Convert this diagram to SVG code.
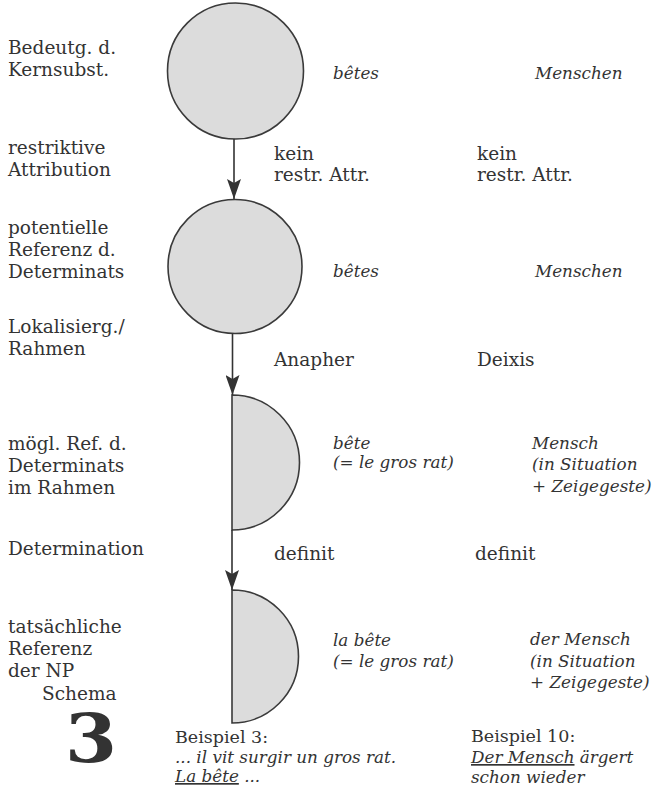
<svg xmlns="http://www.w3.org/2000/svg" width="653" height="811" viewBox="0 0 653 811">
  <style>
    text { font-family: "DejaVu Serif", "Liberation Serif", serif; font-size: 18.5px; fill: #333; }
    .it { font-style: italic; font-size: 16.8px; }
    .ex { font-size: 17.5px; }
    .big { font-size: 68px; font-weight: bold; }
    .node { fill: #dcdcdc; stroke: #3a3a3a; stroke-width: 1.6; }
    .conn { stroke: #333; stroke-width: 1.6; fill: none; }
  </style>
  <defs>
    <marker id="arrow" markerUnits="userSpaceOnUse" markerWidth="20" markerHeight="14" refX="20" refY="7" orient="auto" viewBox="0 0 20 14">
      <path d="M0,0 L20,7 L0,14 L4,7 Z" fill="#333"/>
    </marker>
  </defs>
  <rect width="653" height="811" fill="#fff"/>

  <!-- row labels -->
  <g id="labels">
    <text x="8" y="54">Bedeutg. d.</text>
    <text x="8" y="76">Kernsubst.</text>
    <text x="8" y="154">restriktive</text>
    <text x="8" y="176">Attribution</text>
    <text x="8" y="234">potentielle</text>
    <text x="8" y="256">Referenz d.</text>
    <text x="8" y="278">Determinats</text>
    <text x="8" y="333">Lokalisierg./</text>
    <text x="8" y="355">Rahmen</text>
    <text x="8" y="450">mögl. Ref. d.</text>
    <text x="8" y="472">Determinats</text>
    <text x="8" y="494">im Rahmen</text>
    <text x="8" y="555">Determination</text>
    <text x="8" y="633">tatsächliche</text>
    <text x="8" y="655">Referenz</text>
    <text x="8" y="677">der NP</text>
    <text x="42" y="700">Schema</text>
    <text class="big" x="65" y="762" textLength="52" lengthAdjust="spacingAndGlyphs">3</text>
  </g>

  <!-- nodes -->
  <g id="node-kernsubst">
    <circle class="node" cx="235.5" cy="71" r="68"/>
  </g>
  <g id="node-potentielle-referenz">
    <circle class="node" cx="235" cy="266.5" r="67"/>
  </g>
  <g id="node-rahmen-referenz">
    <path class="node" d="M232,395 A67.5,67.5 0 0 1 232,530 Z"/>
  </g>
  <g id="node-tatsaechliche-referenz">
    <path class="node" d="M232,590 A66.5,66.5 0 0 1 232,723 Z"/>
  </g>

  <!-- connectors -->
  <g id="connectors">
    <line class="conn" x1="234" y1="139" x2="234" y2="199" marker-end="url(#arrow)"/>
    <line class="conn" x1="232.5" y1="333.5" x2="232.5" y2="395" marker-end="url(#arrow)"/>
    <line class="conn" x1="232" y1="530" x2="232" y2="590" marker-end="url(#arrow)"/>
  </g>

  <!-- column: Beispiel 3 -->
  <g id="col-beispiel3">
    <text class="it" x="333" y="79">bêtes</text>
    <text x="274" y="160">kein</text>
    <text x="274" y="181">restr. Attr.</text>
    <text class="it" x="333" y="277">bêtes</text>
    <text x="274" y="366">Anapher</text>
    <text class="it" x="333" y="449">bête</text>
    <text class="it" x="333" y="468">(= le gros rat)</text>
    <text x="274" y="560">definit</text>
    <text class="it" x="333" y="646">la bête</text>
    <text class="it" x="333" y="667">(= le gros rat)</text>
    <text class="ex" x="175" y="743">Beispiel 3:</text>
    <text class="it" x="175" y="763">... il vit surgir un gros rat.</text>
    <text class="it" x="175" y="782"><tspan text-decoration="underline">La bête</tspan> ...</text>
  </g>

  <!-- column: Beispiel 10 -->
  <g id="col-beispiel10">
    <text class="it" x="535" y="79">Menschen</text>
    <text x="477" y="160">kein</text>
    <text x="477" y="181">restr. Attr.</text>
    <text class="it" x="535" y="277">Menschen</text>
    <text x="477" y="366">Deixis</text>
    <text class="it" x="532" y="449">Mensch</text>
    <text class="it" x="532" y="470">(in Situation</text>
    <text class="it" x="532" y="492">+ Zeigegeste)</text>
    <text x="475" y="560">definit</text>
    <text class="it" x="530" y="645">der Mensch</text>
    <text class="it" x="530" y="667">(in Situation</text>
    <text class="it" x="530" y="688">+ Zeigegeste)</text>
    <text class="ex" x="471" y="742">Beispiel 10:</text>
    <text class="it" x="471" y="763"><tspan text-decoration="underline">Der Mensch</tspan> ärgert</text>
    <text class="it" x="471" y="783">schon wieder</text>
  </g>
</svg>
